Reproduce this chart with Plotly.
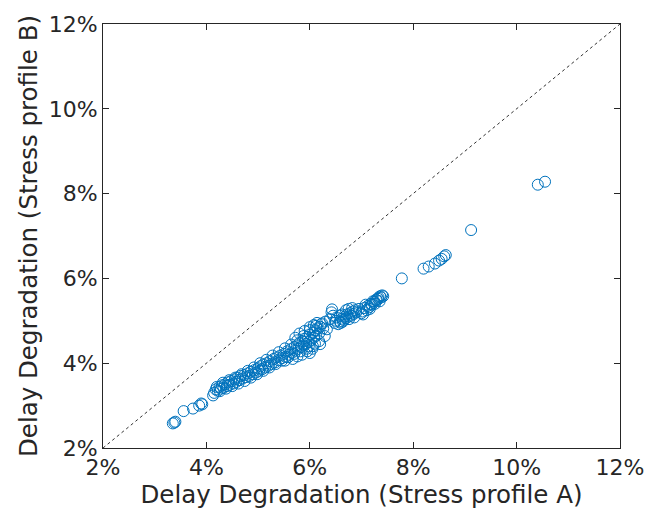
import plotly.graph_objects as go

# Delay degradation under two stress profiles (percent)
deg_a = [
    3.35, 3.38, 3.40, 3.56, 3.74, 3.86, 3.90, 3.92,
    4.13, 4.15, 4.18, 4.22, 4.25, 4.28, 4.30, 4.33, 4.36, 4.40, 4.42, 4.45,
    4.48, 4.52, 4.55, 4.58, 4.60, 4.63, 4.66, 4.70, 4.73, 4.76, 4.80, 4.83,
    4.86, 4.90, 4.93, 4.96, 5.00, 5.02, 5.05, 5.08, 5.10, 5.14, 5.17, 5.20,
    5.23, 5.26, 5.30, 5.33, 5.36, 5.40, 5.43, 5.46, 5.50, 5.53, 5.56, 5.60,
    5.63, 5.66, 5.70, 5.72, 5.75, 5.78, 5.80, 5.83, 5.86, 5.88, 5.90, 5.93,
    5.96, 5.98, 6.00, 6.03, 6.06, 6.08, 6.10, 6.12, 6.15, 6.18, 6.20,
    4.20, 4.26, 4.32, 4.38, 4.44, 4.50, 4.56, 4.62, 4.68, 4.74, 4.80, 4.86,
    4.92, 4.98, 5.04, 5.10, 5.16, 5.22, 5.28, 5.34, 5.40, 5.46, 5.52, 5.58,
    5.64, 5.70, 5.76, 5.82, 5.88, 5.94, 6.00, 6.06, 6.12, 6.18, 6.24, 6.26,
    5.52, 5.67, 5.76, 5.85, 5.95, 6.00, 6.05, 6.10, 6.20, 6.29,
    5.90, 6.00, 6.08, 6.14, 6.22, 6.30, 6.33, 5.80, 5.72, 5.98,
    6.39, 6.43, 6.42, 6.45, 6.48, 6.50, 6.52, 6.55, 6.58, 6.58, 6.60, 6.62,
    6.62, 6.64, 6.65, 6.68, 6.70, 6.70, 6.72, 6.75, 6.75, 6.76, 6.78, 6.80,
    6.82, 6.83, 6.85, 6.86, 6.88, 6.90, 6.95, 7.03,
    7.00, 7.02, 7.05, 7.08, 7.10, 7.12, 7.15, 7.16, 7.18, 7.20, 7.22, 7.25,
    7.26, 7.28, 7.30, 7.32, 7.33, 7.35, 7.36, 7.38, 7.40, 7.42,
    7.78, 8.20, 8.30, 8.42, 8.50, 8.55, 8.60, 8.63, 9.12, 10.41, 10.55,
]
deg_b = [
    2.58, 2.60, 2.62, 2.87, 2.93, 3.00, 3.05, 3.03,
    3.24, 3.30, 3.38, 3.35, 3.44, 3.40, 3.48, 3.42, 3.50, 3.46, 3.55, 3.49,
    3.58, 3.52, 3.62, 3.56, 3.66, 3.60, 3.70, 3.64, 3.72, 3.67, 3.76, 3.70,
    3.80, 3.74, 3.84, 3.78, 3.88, 3.82, 3.93, 3.86, 3.97, 3.90, 4.00, 3.94,
    4.05, 3.98, 4.10, 4.02, 4.14, 4.07, 4.18, 4.12, 4.22, 4.15, 4.28, 4.20,
    4.33, 4.25, 4.38, 4.30, 4.42, 4.34, 4.48, 4.38, 4.52, 4.42, 4.58, 4.46,
    4.62, 4.50, 4.68, 4.55, 4.72, 4.60, 4.78, 4.65, 4.82, 4.70, 4.86,
    3.44, 3.34, 3.54, 3.40, 3.60, 3.46, 3.66, 3.52, 3.74, 3.58, 3.82, 3.66,
    3.90, 3.74, 4.00, 3.82, 4.08, 3.90, 4.18, 3.98, 4.26, 4.06, 4.35, 4.14,
    4.44, 4.22, 4.54, 4.28, 4.64, 4.34, 4.78, 4.40, 4.88, 4.52, 4.94, 4.82,
    4.06, 4.10, 4.16, 4.20, 4.28, 4.24, 4.34, 4.46, 4.45, 4.64,
    4.76, 4.85, 4.90, 4.95, 4.92, 4.98, 4.80, 4.70, 4.60, 4.40,
    5.04, 5.27, 5.20, 5.12, 4.95, 5.00, 5.08, 4.92, 4.98, 5.12, 4.95, 5.05,
    5.15, 4.98, 5.02, 5.10, 5.06, 5.25, 5.15, 5.10, 5.28, 5.04, 5.18, 5.12,
    5.30, 5.22, 5.16, 5.08, 5.25, 5.20, 5.28, 5.15,
    5.18, 5.22, 5.30, 5.38, 5.25, 5.35, 5.32, 5.28, 5.40, 5.38, 5.46, 5.45,
    5.40, 5.50, 5.48, 5.52, 5.55, 5.46, 5.58, 5.55, 5.60, 5.58,
    6.00, 6.23, 6.28, 6.35, 6.42, 6.46, 6.52, 6.55, 7.14, 8.21, 8.28,
]
ticks = [2, 4, 6, 8, 10, 12]
tick_labels = [f"{t}%" for t in ticks]
lims = [2, 12]

font_color = "#262626"
line_color = "#262626"

fig = go.Figure()
fig.add_trace(go.Scatter(
    x=lims, y=lims, mode="lines",
    line=dict(color="#333333", width=1, dash="dot"),
    hoverinfo="skip", showlegend=False,
))
fig.add_trace(go.Scatter(
    x=deg_a, y=deg_b, mode="markers",
    marker=dict(symbol="circle-open", size=11, color="#0072BD",
                line=dict(width=1, color="#0072BD")),
    showlegend=False,
))

axis_common = dict(
    range=lims, tickvals=ticks, ticktext=tick_labels,
    showgrid=False, zeroline=False,
    showline=True, linecolor=line_color, linewidth=1, mirror="ticks",
    ticks="inside", ticklen=6, tickcolor=line_color, tickwidth=1,
    tickfont=dict(family="DejaVu Sans", size=22, color=font_color),
)

title_font = dict(family="DejaVu Sans", size=24.5, color=font_color)

fig.update_layout(
    width=656, height=514,
    margin=dict(l=103, r=36, t=20, b=66),
    paper_bgcolor="white", plot_bgcolor="white",
    xaxis=dict(**axis_common,
               title=dict(text="Delay Degradation (Stress profile A)",
                          font=title_font, standoff=3)),
    yaxis=dict(**axis_common,
               title=dict(text="Delay Degradation (Stress profile B)",
                          font=title_font, standoff=4)),
)

fig.write_html("out.html")
